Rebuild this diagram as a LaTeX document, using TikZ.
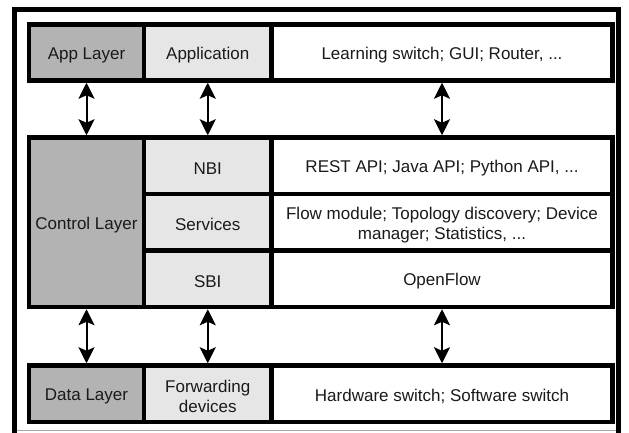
\documentclass[tikz,border=0pt]{standalone}
\usepackage{fontspec}
\setmainfont{Liberation Sans}
\usetikzlibrary{arrows.meta}
\definecolor{layergray}{HTML}{B3B3B3}
\definecolor{partgray}{HTML}{E6E6E6}
\definecolor{inkgray}{HTML}{1A1A1A}
\begin{document}
\begin{tikzpicture}[x=1pt,y=-1pt,
  cell/.style={draw=black, line width=4.5pt, inner sep=0pt, outer sep=0pt,
    anchor=north west},
  layer/.style={cell, fill=layergray, minimum width=115pt},
  part/.style={cell, fill=partgray, minimum width=127.5pt},
  detail/.style={cell, fill=white, minimum width=341pt},
  rowA/.style={minimum height=56pt},
  rowB/.style={minimum height=56.5pt},
  txt/.style={inner sep=0pt, align=center, text=inkgray,
    font=\fontsize{17}{20}\selectfont},
  tip/.tip={Stealth[length=16pt,width=16pt,inset=3.5pt]},
  link/.style={line width=2pt, tip-tip, shorten <=2.25pt, shorten >=2.25pt}]
\useasboundingbox (0,0) rectangle (629,433);
\clip (0,0) rectangle (629,433);

% outer frame (its lower edge runs off the page)
\draw[line width=5pt, line join=miter] (14.5,445) -- (14.5,9.5) -- (618.5,9.5) -- (618.5,445);
\draw[line width=1pt, black!35] (17,430.5) -- (616,430.5);

% layer column
\node[layer, rowA] (app) at (29,24.5) {};
\node[layer, minimum height=169.5pt] (ctl) at (29,137.5) {};
\node[layer, rowB] (dat) at (29,365.5) {};

% component column
\node[part, rowA] (apl) at (144,24.5) {};
\node[part, rowB] (nbi) at (144,137.5) {};
\node[part, rowB] (svc) at (144,194) {};
\node[part, rowB] (sbi) at (144,250.5) {};
\node[part, rowB] (fwd) at (144,365.5) {};

% example column
\node[detail, rowA] (apx) at (271.5,24.5) {};
\node[detail, rowB] (nbx) at (271.5,137.5) {};
\node[detail, rowB] (svx) at (271.5,194) {};
\node[detail, rowB] (sbx) at (271.5,250.5) {};
\node[detail, rowB] (dax) at (271.5,365.5) {};

% cell texts, set a little below each cell's centre
\node[txt] (appT) at ([yshift=-2.5pt]app.center) {App Layer};
\node[txt] (ctlT) at ([yshift=-2.5pt]ctl.center) {Control Layer};
\node[txt] (datT) at ([yshift=-2.5pt]dat.center) {Data Layer};
\node[txt] (aplT) at ([yshift=-2.5pt]apl.center) {Application};
\node[txt] (nbiT) at ([yshift=-2.5pt]nbi.center) {NBI};
\node[txt] (svcT) at ([yshift=-2.5pt]svc.center) {Services};
\node[txt] (sbiT) at ([yshift=-2.5pt]sbi.center) {SBI};
\node[txt] (fwdT) at ([yshift=-2.5pt]fwd.center) {Forwarding\\devices};
\node[txt] (apxT) at ([yshift=-2.5pt]apx.center) {Learning switch; GUI; Router, ...};
\node[txt] (nbxT) at ([yshift=-2.5pt]nbx.center) {REST API; Java API; Python API, ...};
\node[txt] (svxT) at ([yshift=-2.5pt]svx.center) {Flow module; Topology discovery; Device\\manager; Statistics, ...};
\node[txt] (sbxT) at ([yshift=-2.5pt]sbx.center) {OpenFlow};
\node[txt] (daxT) at ([yshift=-2.5pt]dax.center) {Hardware switch; Software switch};

% interfaces between layers
\draw[link] (app.south) -- (ctl.north);
\draw[link] (apl.south) -- (nbi.north);
\draw[link] (apx.south) -- (nbx.north);
\draw[link] (ctl.south) -- (dat.north);
\draw[link] (sbi.south) -- (fwd.north);
\draw[link] (sbx.south) -- (dax.north);
\end{tikzpicture}
\end{document}
